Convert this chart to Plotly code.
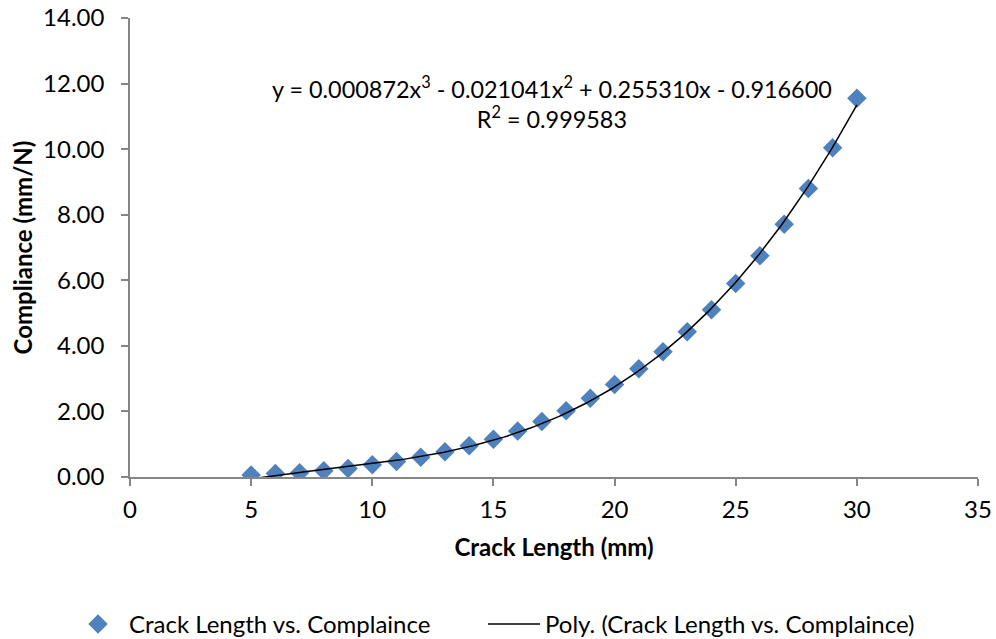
import numpy as np
import plotly.graph_objects as go

# Measured compliance at each crack length
crack_length_mm = [5, 6, 7, 8, 9, 10, 11, 12, 13, 14, 15, 16, 17, 18,
                   19, 20, 21, 22, 23, 24, 25, 26, 27, 28, 29, 30]
compliance_mm_per_n = [0.06, 0.11, 0.13, 0.19, 0.26, 0.37, 0.47, 0.60, 0.77,
                       0.95, 1.15, 1.40, 1.69, 2.02, 2.40, 2.82, 3.30, 3.82,
                       4.43, 5.10, 5.90, 6.75, 7.71, 8.80, 10.04, 11.55]

# Cubic trendline coefficients (highest power first) and its R²
poly_coeffs = [0.000872, -0.021041, 0.255310, -0.916600]
r_squared = 0.999583

x_fit = np.linspace(min(crack_length_mm), max(crack_length_mm), 200)
y_fit = np.polyval(poly_coeffs, x_fit)

FONT = "Lato"
FS = 24
AXIS_COLOR = "#868686"
BLUE = "#4F81BD"

fig = go.Figure()
fig.add_trace(go.Scatter(
    x=crack_length_mm, y=compliance_mm_per_n, mode="markers",
    name="Crack Length vs. Complaince", legend="legend",
    marker=dict(symbol="diamond", size=15, color=BLUE, line=dict(width=0)),
))
fig.add_trace(go.Scatter(
    x=x_fit, y=y_fit, mode="lines",
    name="Poly. (Crack Length vs. Complaince)", legend="legend2",
    line=dict(color="black", width=1.5),
))

a, b, c, d = poly_coeffs
eq_text = (f"y = {a:.6f}x<sup>3</sup> - {abs(b):.6f}x<sup>2</sup> + {c:.6f}x"
           f" - {abs(d):.6f}<br>R<sup>2</sup> = {r_squared:.6f}")
fig.add_annotation(
    x=17.4, y=11.42, xref="x", yref="y", text=eq_text, showarrow=False,
    align="center", font=dict(family=FONT, size=23.4, color="black"),
)

legend_common = dict(
    orientation="h", xref="container", yref="container",
    xanchor="left", y=0.023, yanchor="middle",
    font=dict(family=FONT, size=FS), itemwidth=52,
    bgcolor="rgba(0,0,0,0)",
)

fig.update_layout(
    width=996, height=639,
    margin=dict(l=130, r=18, t=18, b=162, autoexpand=False),
    paper_bgcolor="white", plot_bgcolor="white",
    font=dict(family=FONT, size=FS, color="black"),
    showlegend=True,
    legend=dict(x=67 / 996, **legend_common),
    legend2=dict(x=483 / 996, **legend_common),
)
fig.update_xaxes(
    range=[0, 35], dtick=5, tick0=0, showgrid=False, zeroline=False,
    showline=True, linecolor=AXIS_COLOR, linewidth=1.5, automargin=False,
    ticks="outside", ticklen=7, tickcolor=AXIS_COLOR, tickwidth=1.5,
    ticklabelstandoff=3,
    title=dict(text="<b>Crack Length (mm)</b>", standoff=18,
               font=dict(family=FONT, size=FS)),
    tickfont=dict(family=FONT, size=FS),
)
fig.update_yaxes(
    range=[0, 14], dtick=2, tick0=0, tickformat=".2f", showgrid=False,
    zeroline=False, showline=True, linecolor=AXIS_COLOR, linewidth=1.5,
    ticks="outside", ticklen=7, tickcolor=AXIS_COLOR, tickwidth=1.5,
    ticklabelstandoff=12, automargin=False,
    title=dict(text="<b>Compliance (mm/N)</b>", standoff=4,
               font=dict(family=FONT, size=FS)),
    tickfont=dict(family=FONT, size=FS),
)

fig.write_html("out.html")
